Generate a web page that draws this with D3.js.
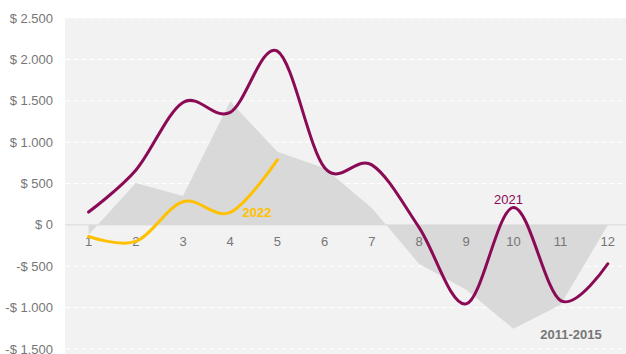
<!DOCTYPE html>
<html>
<head>
<meta charset="utf-8">
<script src="https://cdn.jsdelivr.net/npm/d3@7"></script>
<style>
  html, body { margin: 0; padding: 0; background: #fff; }
  svg { display: block; font-family: "Liberation Sans", Arial, sans-serif; }
</style>
</head>
<body>
<svg id="chart" width="626" height="354"></svg>
<script>
// Monthly results: 2011-2015 reference band, 2021 and 2022 (partial year)
const months = [1, 2, 3, 4, 5, 6, 7, 8, 9, 10, 11, 12];
const ref2011_2015 = [-120, 505, 350, 1490, 885, 685, 205, -470, -785, -1256, -966, 0];
const y2021 = [155, 660, 1480, 1360, 2100, 690, 725, -30, -955, 210, -915, -470];
const y2022 = [-140, -200, 280, 150, 785];
const yTicks = [-1500, -1000, -500, 0, 500, 1000, 1500, 2000, 2500];

const svg = d3.select("#chart");
const W = 626, H = 354;
const plotLeft = 65, plotTop = 18, plotBottom = 349;

const x = d3.scalePoint().domain(months).range([plotLeft, plotLeft + 12 * 47.2]).padding(0.5);
const y = d3.scaleLinear().domain([-1500, 2500]).range([plotBottom, plotTop]);

const fmt = v => v < 0 ? "-$ " + d3.format(",")(-v).replace(/,/g, ".")
                       : "$ " + d3.format(",")(v).replace(/,/g, ".");

// plot panel
svg.append("rect")
  .attr("x", plotLeft).attr("y", plotTop)
  .attr("width", W - plotLeft).attr("height", H - plotTop)
  .attr("fill", "#f2f2f2");

// horizontal gridlines
svg.append("g").selectAll("line").data(yTicks.filter(d => d !== 0)).join("line")
  .attr("x1", plotLeft).attr("x2", W)
  .attr("y1", d => y(d)).attr("y2", d => y(d))
  .attr("stroke", "#ffffff").attr("stroke-width", 1.2)
  .attr("stroke-dasharray", "5,3");

// 2011-2015 area
const area = d3.area()
  .x((d, i) => x(months[i]))
  .y0(y(0))
  .y1(d => y(d));
svg.append("path").datum(ref2011_2015)
  .attr("d", area)
  .attr("fill", "#d9d9d9");

// zero line
svg.append("line")
  .attr("x1", plotLeft).attr("x2", W)
  .attr("y1", y(0)).attr("y2", y(0))
  .attr("stroke", "#d9d9d9").attr("stroke-width", 1);

// y axis labels
svg.append("g").selectAll("text").data(yTicks).join("text")
  .attr("x", 53).attr("y", d => y(d))
  .attr("dy", "0.35em")
  .attr("text-anchor", "end")
  .attr("font-size", 13)
  .attr("fill", "#767676")
  .text(fmt);

// month labels
svg.append("g").selectAll("text").data(months).join("text")
  .attr("x", d => x(d)).attr("y", 241)
  .attr("dy", "0.35em")
  .attr("text-anchor", "middle")
  .attr("font-size", 13)
  .attr("fill", "#767676")
  .text(d => d);

// series lines
const line = d3.line()
  .x((d, i) => x(months[i]))
  .y(d => y(d))
  .curve(d3.curveCardinal.tension(0));

svg.append("path").datum(y2021)
  .attr("d", line)
  .attr("fill", "none")
  .attr("stroke", "#8b0a56")
  .attr("stroke-width", 3)
  .attr("stroke-linecap", "round");

svg.append("path").datum(y2022)
  .attr("d", line)
  .attr("fill", "none")
  .attr("stroke", "#ffc000")
  .attr("stroke-width", 3)
  .attr("stroke-linecap", "round");

// series labels
svg.append("text")
  .attr("x", x(10) - 5).attr("y", 204)
  .attr("text-anchor", "middle")
  .attr("font-size", 13)
  .attr("fill", "#8b0a56")
  .text("2021");

svg.append("text")
  .attr("x", 257).attr("y", 217)
  .attr("text-anchor", "middle")
  .attr("font-size", 13)
  .attr("font-weight", "bold")
  .attr("fill", "#ffc000")
  .text("2022");

svg.append("text")
  .attr("x", 571).attr("y", 339)
  .attr("text-anchor", "middle")
  .attr("font-size", 13)
  .attr("font-weight", "bold")
  .attr("fill", "#767676")
  .text("2011-2015");
</script>
</body>
</html>
